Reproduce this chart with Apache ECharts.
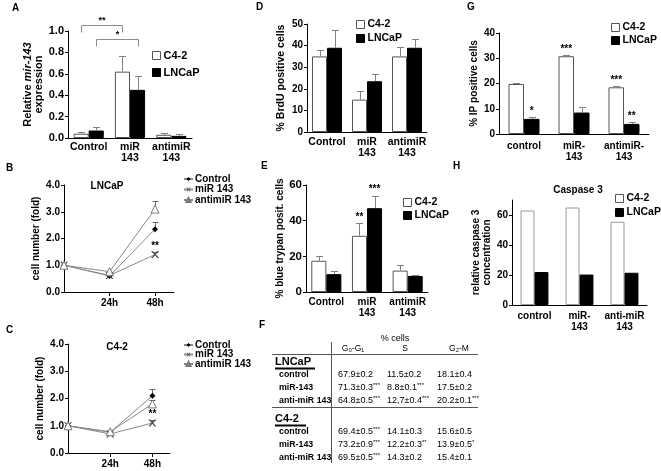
<!DOCTYPE html>
<html><head><meta charset="utf-8">
<script src="https://cdn.jsdelivr.net/npm/echarts@6/dist/echarts.min.js"></script>
<style>html,body{margin:0;padding:0;background:#fff}#c{width:661px;height:471px}</style>
</head><body><div id="c"></div>
<script>
// ---------- DATA ----------
const barCats = ['Control', 'miR\n143', 'antimiR\n143'];
const catsG = ['control', 'miR-\n143', 'antimiR-\n143'];
const catsH = ['control', 'miR-\n143', 'anti-miR\n143'];
const barSeriesNames = ['C4-2', 'LNCaP'];

// A: relative mir-143 expression
const aC42 = [0.04, 0.62, 0.03];
const aC42Err = [0.055, 0.77, 0.045];
const aLN = [0.07, 0.45, 0.02];
const aLNErr = [0.10, 0.58, 0.04];
const aSig = [['C4-2', '**'], ['LNCaP', '*']]; // Control vs miR 143

// B/C: growth curves (fold)
const timePoints = [0, 24, 48];
const lineNames = ['Control', 'miR 143', 'antimiR 143'];
const bControl = [1.0, 0.6, 2.35];
const bControlErr = [null, null, 2.6];
const bMiR = [1.0, 0.62, 1.4];
const bMiRErr = [null, null, 1.5];
const bAnti = [1.0, 0.76, 3.1];
const bAntiErr = [null, null, 3.4];
const bMiRStars = ['', '', '**'];
const cControl = [1.0, 0.76, 2.1];
const cControlErr = [null, null, 2.35];
const cMiR = [1.0, 0.7, 1.1];
const cMiRErr = [null, null, 1.2];
const cAnti = [1.0, 0.78, 1.8];
const cAntiErr = [null, null, 1.95];
const cMiRStars = ['', '', '**'];

// D: % BrdU positive cells
const dC42 = [35, 15, 35];
const dC42Err = [38, 19, 39.5];
const dLN = [39, 23.5, 39];
const dLNErr = [47, 27, 43];

// E: % blue trypan positive cells
const eC42 = [17.5, 31.5, 12];
const eC42Err = [20, 38.5, 15];
const eLN = [10, 47, 9];
const eLNErr = [12, 54, 9.6];
const eC42Stars = ['', '**', ''];
const eLNStars = ['', '***', ''];

// G: % IP positive cells
const gC42 = [19.8, 30.8, 18.5];
const gC42Err = [20.2, 31.1, 18.9];
const gLN = [6, 8.5, 4];
const gLNErr = [6.8, 10.7, 4.8];
const gC42Stars = ['', '***', '***'];
const gLNStars = ['*', '', '**'];

// H: relative caspase 3 concentration
const hC42 = [63, 65, 55.5];
const hLN = [22, 20.3, 21.5];

// F: cell cycle table
const tableHeader = '% cells';
const tableCols = ['G\u2080-G\u2081', 'S', 'G\u2082-M'];
const tableGroups = ['LNCaP', 'C4-2'];
const tableRowLabels = ['control', 'miR-143', 'anti-miR 143'];
const tableLNCaP = [['67.9\u00b10.2', '11.5\u00b10.2', '18.1\u00b10.4'],
                    ['71.3\u00b10.3', '8.8\u00b10.1', '17.5\u00b10.2'],
                    ['64.8\u00b10.5', '12,7\u00b10.4', '20.2\u00b10.1']];
const tableLNCaPStars = [['', '', ''], ['***', '***', ''], ['***', '***', '***']];
const tableC42 = [['69.4\u00b10.5', '14.1\u00b10.3', '15.6\u00b10.5'],
                  ['73.2\u00b10.9', '12.2\u00b10.3', '13.9\u00b10.5'],
                  ['69.5\u00b10.5', '14.3\u00b10.2', '15.4\u00b10.1']];
const tableC42Stars = [['***', '', ''], ['***', '**', '*'], ['***', '', '']];

// ---------- STYLE / HELPERS ----------
const FONT = '"Liberation Sans", Arial, sans-serif';
const black = '#000';
const errColor = '#808080';
function tstyle(size, weight) {
  return {fontFamily: FONT, fontWeight: weight || 'bold', fontSize: size, color: black};
}

const grids = [
  {left: 68, top: 31, width: 124, height: 107},   // A
  {left: 64, top: 185, width: 110, height: 107},  // B
  {left: 68, top: 344, width: 102, height: 109},  // C
  {left: 307, top: 24, width: 120, height: 108},  // D
  {left: 306, top: 185, width: 122, height: 107}, // E
  {left: 499, top: 33, width: 150, height: 101},  // G
  {left: 512, top: 200, width: 135, height: 105}  // H
];
const gaps = [27, 0, 0, 25, 26, 38, 38];

function catX(idx, cats, margin, size) {
  return {type: 'category', gridIndex: idx, data: cats,
    axisLine: {show: true, lineStyle: {color: black, width: 1}},
    axisTick: {show: false},
    axisLabel: Object.assign(tstyle(size || 10), {margin: margin, lineHeight: 11, interval: 0})};
}
function valY(idx, max, interval, name, gap, fmt, extra) {
  const ax = {type: 'value', gridIndex: idx, min: 0, max: max, interval: interval,
    axisLine: {show: true, onZero: false, lineStyle: {color: black, width: 1}},
    axisTick: {show: true, length: 3, lineStyle: {color: black}},
    splitLine: {show: false},
    axisLabel: Object.assign(tstyle(10), {margin: 4, formatter: fmt}),
    name: name, nameLocation: 'middle', nameRotate: 90, nameGap: gap,
    nameTextStyle: Object.assign(tstyle(10), {lineHeight: 11})};
  return Object.assign(ax, extra || {});
}
function timeX(idx) {
  return {type: 'value', gridIndex: idx, min: 0, max: 58, interval: 24,
    axisLine: {show: true, onZero: false, lineStyle: {color: black, width: 1}},
    axisTick: {show: true, length: 4, customValues: [24, 48], lineStyle: {color: black}},
    splitLine: {show: false},
    axisLabel: Object.assign(tstyle(10), {margin: 6, customValues: [24, 48],
      formatter: v => v + 'h'})};
}

function bars(idx, name, vals, border) {
  const isWhite = name === 'C4-2';
  return {type: 'bar', name: name, xAxisIndex: idx, yAxisIndex: idx, data: vals,
    barGap: '0%', barCategoryGap: gaps[idx] + '%', silent: true,
    itemStyle: isWhite ? {color: '#fff', borderColor: border || '#555', borderWidth: 1}
                       : {color: '#000', borderColor: '#000', borderWidth: 1}};
}

function barErr(idx, vals, errs, side) {
  return {type: 'custom', xAxisIndex: idx, yAxisIndex: idx, silent: true, z: 5,
    data: vals.map((v, i) => [i, v, errs[i]]),
    renderItem(params, api) {
      const i = api.value(0), v = api.value(1), e = api.value(2);
      const band = api.size([1, 0])[0];
      const bw = band * (1 - gaps[idx] / 100) / 2;
      const c = api.coord([i, v]), t = api.coord([i, e]);
      const x = Math.round(c[0] + side * bw / 2) + 0.5;
      const yt = Math.round(t[1]) + 0.5;
      return {type: 'group', children: [
        {type: 'line', shape: {x1: x, y1: c[1], x2: x, y2: yt}, style: {stroke: errColor, lineWidth: 1}},
        {type: 'line', shape: {x1: x - 3.5, y1: yt, x2: x + 3.5, y2: yt}, style: {stroke: errColor, lineWidth: 1}}
      ]};
    }};
}

function barStars(idx, vals, errs, marks, side) {
  return {type: 'custom', xAxisIndex: idx, yAxisIndex: idx, silent: true, z: 6,
    data: vals.map((v, i) => [i, errs ? errs[i] : v]),
    renderItem(params, api) {
      const i = api.value(0), top = api.value(1);
      const m = marks[params.dataIndex];
      if (!m) return null;
      const band = api.size([1, 0])[0];
      const bw = band * (1 - gaps[idx] / 100) / 2;
      const c = api.coord([i, top]);
      return {type: 'text', x: c[0] + side * bw / 2, y: c[1] - 1,
        style: {text: m, fill: black, align: 'center', verticalAlign: 'bottom',
          fontSize: 10, fontFamily: FONT, fontWeight: 'bold'}};
    }};
}

function lineSeries(idx, name, vals, symbol, size, sstyle) {
  return {type: 'line', name: name, xAxisIndex: idx, yAxisIndex: idx, silent: true,
    data: timePoints.map((t, i) => [t, vals[i]]),
    symbol: symbol, symbolSize: size, showAllSymbol: true,
    lineStyle: {color: '#8a8a8a', width: 1},
    itemStyle: sstyle, z: 3};
}

function lineErr(idx, vals, errs) {
  return {type: 'custom', xAxisIndex: idx, yAxisIndex: idx, silent: true, z: 2,
    data: timePoints.map((t, i) => [t, vals[i], errs[i] == null ? vals[i] : errs[i]]),
    renderItem(params, api) {
      const c = api.coord([api.value(0), api.value(1)]);
      const t = api.coord([api.value(0), api.value(2)]);
      if (Math.abs(c[1] - t[1]) < 1) return null;
      const x = Math.round(c[0]) + 0.5, yt = Math.round(t[1]) + 0.5;
      return {type: 'group', children: [
        {type: 'line', shape: {x1: x, y1: c[1], x2: x, y2: yt}, style: {stroke: '#666', lineWidth: 1}},
        {type: 'line', shape: {x1: x - 3, y1: yt, x2: x + 3, y2: yt}, style: {stroke: '#666', lineWidth: 1}}
      ]};
    }};
}

function lineStars(idx, errs, vals, marks) {
  return {type: 'custom', xAxisIndex: idx, yAxisIndex: idx, silent: true, z: 6,
    data: timePoints.map((t, i) => [t, errs[i] == null ? vals[i] : errs[i]]),
    renderItem(params, api) {
      const m = marks[params.dataIndex];
      if (!m) return null;
      const c = api.coord([api.value(0), api.value(1)]);
      return {type: 'text', x: c[0], y: c[1] - 1,
        style: {text: m, fill: black, align: 'center', verticalAlign: 'bottom',
          fontSize: 10, fontFamily: FONT, fontWeight: 'bold'}};
    }};
}

// significance brackets for A (Control vs miR 143)
function sigBrackets(idx) {
  return {type: 'custom', xAxisIndex: idx, yAxisIndex: idx, silent: true, z: 6,
    data: aSig.map((s, k) => [k]),
    renderItem(params, api) {
      const k = params.dataIndex;
      const side = aSig[k][0] === 'C4-2' ? -1 : 1;
      const band = api.size([1, 0])[0];
      const bw = band * (1 - gaps[idx] / 100) / 2;
      const p0 = api.coord([0, 1.0]), p1 = api.coord([1, 1.0]);
      const x0 = Math.round(p0[0] + side * bw / 2) + 0.5;
      const x1 = Math.round(p1[0] + side * bw / 2) + 0.5;
      const y = Math.round(p0[1] - 6 + k * 14) + 0.5;
      const leg = 7;
      return {type: 'group', children: [
        {type: 'polyline', shape: {points: [[x0, y + leg], [x0, y], [x1, y], [x1, y + leg]]},
          style: {stroke: '#8c8c8c', lineWidth: 1, fill: null}},
        {type: 'text', x: (x0 + x1) / 2, y: y - 0.5,
          style: {text: aSig[k][1], fill: black, align: 'center', verticalAlign: 'bottom',
            fontSize: 9, fontFamily: FONT, fontWeight: 'bold'}}
      ]};
    }};
}

// ---------- GRAPHIC: letters, titles, table ----------
const graphic = [];
function gtext(x, y, text, size, weight, align) {
  graphic.push({type: 'text', x: x, y: y, silent: true,
    style: {text: text, fill: black, font: (weight || 'bold') + ' ' + size + 'px ' + FONT,
      textAlign: align || 'left', textVerticalAlign: 'middle'}});
}
function gline(x1, y1, x2, y2, w, color) {
  graphic.push({type: 'line', silent: true, shape: {x1: x1, y1: y1, x2: x2, y2: y2},
    style: {stroke: color || '#444', lineWidth: w || 1}});
}
[['A', 12, 8], ['B', 6, 168], ['C', 6, 330], ['D', 256, 7], ['E', 261, 166],
 ['F', 259, 325], ['G', 467, 7], ['H', 453, 166]].forEach(l => gtext(l[1], l[2], l[0], 10, 'bold'));
gtext(107, 186, 'LNCaP', 10, 'bold', 'center');
gtext(117, 347, 'C4-2', 10, 'bold', 'center');
gtext(578, 190, 'Caspase 3', 10, 'bold', 'center');

// table F
(function () {
  const colCenters = [353, 405, 459];
  const colStarts = [338, 387, 437];
  gtext(395, 339, tableHeader, 9, 'normal', 'center');
  tableCols.forEach((c, j) => gtext(colCenters[j], 349, c, 8.5, 'normal', 'center'));
  gline(331.5, 342, 331.5, 463, 1, '#555');
  gline(272, 354.5, 478, 354.5, 1, '#555');
  gline(272, 407.5, 478, 407.5, 1, '#555');
  const groups = [[tableLNCaP, tableLNCaPStars, 362], [tableC42, tableC42Stars, 419]];
  groups.forEach((g, gi) => {
    const y0 = g[2];
    gtext(275, y0, tableGroups[gi], 11, 'bold');
    const w = gi === 0 ? 40 : 31;
    gline(275, y0 + 6.5, 275 + w, y0 + 6.5, 2, '#000');
    tableRowLabels.forEach((r, i) => {
      const y = y0 + 13 + i * 13;
      gtext(279, y, r, 8.8, 'bold');
      g[0][i].forEach((v, j) => {
        const s = g[1][i][j];
        graphic.push({type: 'text', x: colStarts[j], y: y, silent: true,
          style: {text: '{v|' + v + '}' + (s ? '{s|' + s + '}' : ''),
            textAlign: 'left', textVerticalAlign: 'middle',
            rich: {v: {fontSize: 9, fontFamily: FONT, fill: black, color: black, lineHeight: 11},
                   s: {fontSize: 6, fontFamily: FONT, fill: black, color: black, lineHeight: 6, verticalAlign: 'top'}}}});
      });
    });
  });
})();

// ---------- OPTION ----------
const xPath = 'path://M0,0 L2,0 L5,3.2 L8,0 L10,0 L6,4 L10,8 L8,8 L5,4.8 L2,8 L0,8 L4,4 Z';
const legendBar = (left, top, gap, size) => ({left: left, top: top, orient: 'vertical', data: barSeriesNames,
  icon: 'rect', itemWidth: 8, itemHeight: 8, itemGap: gap,
  itemStyle: {borderWidth: 1},
  textStyle: Object.assign(tstyle(size), {padding: [0, 0, 0, -2]})});
const legendLine = (left, top, gap) => ({left: left, top: top, orient: 'vertical', data: lineNames,
  itemWidth: 9, itemHeight: 5, itemGap: gap,
  textStyle: Object.assign(tstyle(10), {lineHeight: 10, padding: [0, 0, 0, -3]})});

const option = {
  animation: false,
  backgroundColor: '#fff',
  textStyle: {fontFamily: FONT},
  grid: grids.map(g => Object.assign({outerBoundsMode: 'none', containLabel: false}, g)),
  xAxis: [catX(0, barCats, 4, 10.5), timeX(1), timeX(2), catX(3, barCats, 5, 10.5), catX(4, barCats, 5),
          catX(5, catsG, 7), catX(6, catsH, 6)],
  yAxis: [
    valY(0, 1.0, 0.2, '{n|Relative }{i|mir-143}\n{n|expression}', 22, v => v.toFixed(1),
      {axisLabel: Object.assign(tstyle(11), {margin: 4, formatter: v => v.toFixed(1)}),
       nameTextStyle: Object.assign(tstyle(11), {lineHeight: 11, rich: {
        n: Object.assign(tstyle(11), {lineHeight: 11}),
        i: Object.assign(tstyle(11), {fontStyle: 'italic', lineHeight: 11})}})}),
    valY(1, 4, 1, 'cell number (fold)', 19, v => v.toFixed(1)),
    valY(2, 4, 1, 'cell number (fold)', 21, v => v.toFixed(1)),
    valY(3, 50, 10, '% BrdU positive cells', 20, v => v, {nameTextStyle: tstyle(10.5)}),
    valY(4, 60, 20, '% blue trypan posit. cells', 16, v => v, {axisLabel: Object.assign(tstyle(11.5), {margin: 4})}),
    valY(5, 40, 10, '% IP positive cells', 13, v => v),
    valY(6, 70, 20, 'relative caspase 3\nconcentration', 9, v => v,
      {axisTick: {show: true, length: 3, customValues: [0, 20, 40, 60], lineStyle: {color: black}},
       axisLabel: Object.assign(tstyle(10), {margin: 4, customValues: [0, 20, 40, 60]})})
  ],
  legend: [
    legendBar(147, 45, 6, 11),
    legendBar(351, 14, 3, 10.5),
    legendBar(398, 192, 2, 10.5),
    legendBar(606, 17, 2, 10.5),
    legendBar(610, 188, 3, 10.5),
    legendLine(178, 169, 0.5),
    legendLine(178, 335, -0.5)
  ],
  series: [
    // A
    bars(0, 'C4-2', aC42), bars(0, 'LNCaP', aLN),
    barErr(0, aC42, aC42Err, -1), barErr(0, aLN, aLNErr, 1), sigBrackets(0),
    // B
    lineErr(1, bControl, bControlErr), lineErr(1, bMiR, bMiRErr), lineErr(1, bAnti, bAntiErr),
    lineSeries(1, 'Control', bControl, 'diamond', 6, {color: '#000'}),
    lineSeries(1, 'miR 143', bMiR, xPath, [8, 7], {color: '#444'}),
    lineSeries(1, 'antimiR 143', bAnti, 'triangle', 8, {color: '#fff', borderColor: '#777', borderWidth: 1}),
    lineStars(1, bMiRErr, bMiR, bMiRStars),
    // C
    lineErr(2, cControl, cControlErr), lineErr(2, cMiR, cMiRErr), lineErr(2, cAnti, cAntiErr),
    lineSeries(2, 'Control', cControl, 'diamond', 6, {color: '#000'}),
    lineSeries(2, 'miR 143', cMiR, xPath, [8, 7], {color: '#444'}),
    lineSeries(2, 'antimiR 143', cAnti, 'triangle', 8, {color: '#fff', borderColor: '#777', borderWidth: 1}),
    lineStars(2, cMiRErr, cMiR, cMiRStars),
    // D
    bars(3, 'C4-2', dC42), bars(3, 'LNCaP', dLN),
    barErr(3, dC42, dC42Err, -1), barErr(3, dLN, dLNErr, 1),
    // E
    bars(4, 'C4-2', eC42), bars(4, 'LNCaP', eLN),
    barErr(4, eC42, eC42Err, -1), barErr(4, eLN, eLNErr, 1),
    barStars(4, eC42, eC42Err, eC42Stars, -1), barStars(4, eLN, eLNErr, eLNStars, 1),
    // G
    bars(5, 'C4-2', gC42), bars(5, 'LNCaP', gLN),
    barErr(5, gC42, gC42Err, -1), barErr(5, gLN, gLNErr, 1),
    barStars(5, gC42, gC42Err, gC42Stars, -1), barStars(5, gLN, gLNErr, gLNStars, 1),
    // H
    bars(6, 'C4-2', hC42, '#999'), bars(6, 'LNCaP', hLN)
  ],
  graphic: graphic
};
const chart = echarts.init(document.getElementById('c'), null, {renderer: 'canvas'});
chart.setOption(option);
</script></body></html>
